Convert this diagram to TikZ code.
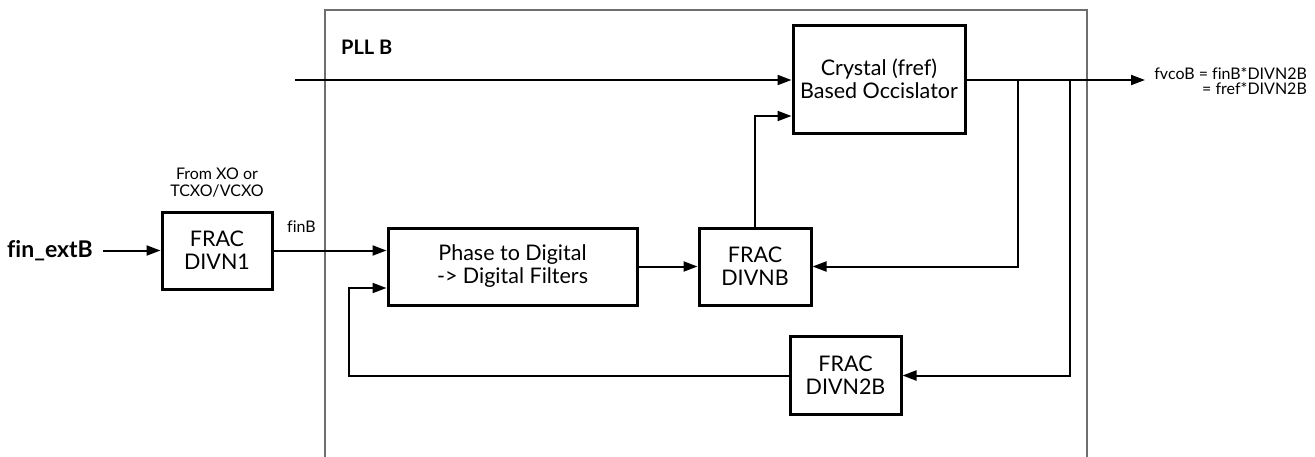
\documentclass[tikz,border=0pt]{standalone}
\usepackage{fontspec}
\setmainfont{Lato}[Ligatures=NoCommon]
\usetikzlibrary{arrows.meta}
\definecolor{frame}{RGB}{110,110,110}
\tikzset{
  blk/.style={draw=black, line width=3pt, fill=white, align=center, inner sep=0pt,
     font=\fontsize{21.5}{23}\selectfont},
  conn/.style={line width=2pt, -{Triangle[length=14pt,width=10pt]}},
  small/.style={font=\fontsize{16}{17}\selectfont, align=center, inner sep=0pt},
}
\begin{document}
\begin{tikzpicture}[x=1pt,y=-1pt]
\useasboundingbox (0,0) rectangle (1315,456);
% PLL frame
\draw[frame, line width=1.5pt] (325,470) -- (325,10) -- (1087,10) -- (1087,470);
\node[anchor=west, inner sep=0pt, font=\fontsize{20}{22}\selectfont\bfseries] (pll) at (341,47) {PLL B};

\node[blk, minimum width=110pt, minimum height=77pt] (divn1) at (217,250.5) {FRAC\\DIVN1};
\node[blk, minimum width=249pt, minimum height=77pt] (phase) at (512.5,266.5) {Phase to Digital\\-> Digital Filters};
\node[blk, minimum width=112pt, minimum height=77pt] (divnb) at (755,266.5) {FRAC\\DIVNB};
\node[blk, minimum width=111pt, minimum height=78pt] (divn2b) at (845.5,375.5) {FRAC\\DIVN2B};
\node[blk, minimum width=172pt, minimum height=108pt] (xtal) at (879,79) {Crystal (fref)\\Based Occislator};

\node[inner sep=0pt, font=\fontsize{23}{26}\selectfont\bfseries] (fin) at (50,250.5) {fin\_extB};
\node[small] (from) at (217,183) {From XO or\\TCXO/VCXO};
\node[small, anchor=west] (finb) at (287,227) {finB};
\node[font=\fontsize{16}{15.5}\selectfont, align=right, anchor=east, inner sep=0pt] (fvco) at (1307,81) {fvcoB = finB*DIVN2B\\= fref*DIVN2B};

\coordinate (topin) at (295,80);
\coordinate (out) at (1145,80);
\coordinate (tap1) at (1018,80);
\coordinate (tap2) at (1070,80);
\coordinate (fb) at (349,288);
\coordinate (up) at (755,116);

\draw[conn] (fin.east) ++(10,0) -- (divn1.west);
\draw[conn] (divn1.east) -- (divn1.east -| phase.west);
\draw[conn] (phase.east) -- (divnb.west);
\draw[conn] (divnb.north) |- (up -| xtal.west);
\draw[conn] (topin) -- (topin -| xtal.west);
\draw[conn] (xtal.east |- out) -- (out);
\draw[conn] (tap1) |- (divnb.east);
\draw[conn] (tap2) |- (divn2b.east);
\draw[conn] (divn2b.west) -| (fb) -- (fb -| phase.west);
\end{tikzpicture}
\end{document}
